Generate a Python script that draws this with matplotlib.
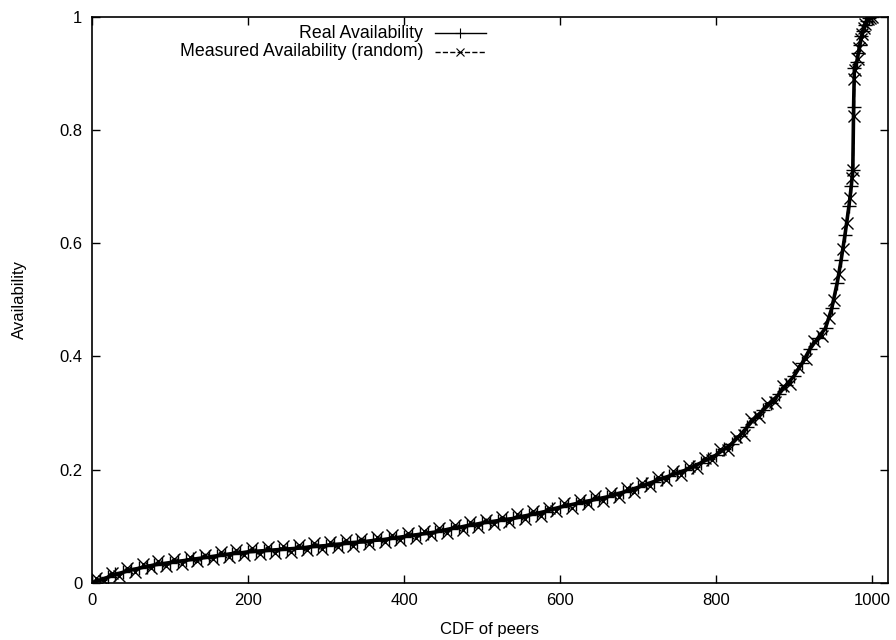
import matplotlib
matplotlib.use("Agg")
import matplotlib.pyplot as plt

plt.rcParams['font.family'] = ['Liberation Sans', 'DejaVu Sans']

# peer rank (sorted) and availability
real_x = list(range(0, 950, 10)) + [948, 955, 960, 965, 970, 973, 975, 976, 977,
                                    980, 982, 984, 986, 988, 990, 993, 996, 1000]
real_y = [0.000, 0.005, 0.010, 0.015, 0.019, 0.023, 0.026, 0.029, 0.032, 0.034,
          0.036, 0.038, 0.040, 0.042, 0.044, 0.046, 0.048, 0.050, 0.052, 0.053,
          0.055, 0.056, 0.057, 0.058, 0.059, 0.060, 0.061, 0.062, 0.064, 0.065,
          0.066, 0.068, 0.069, 0.071, 0.072, 0.073, 0.075, 0.076, 0.078, 0.080,
          0.082, 0.084, 0.086, 0.088, 0.090, 0.093, 0.096, 0.098, 0.101, 0.103,
          0.106, 0.108, 0.110, 0.112, 0.114, 0.117, 0.120, 0.123, 0.126, 0.130,
          0.134, 0.137, 0.140, 0.143, 0.146, 0.149, 0.152, 0.156, 0.160, 0.164,
          0.169, 0.174, 0.179, 0.184, 0.189, 0.194, 0.199, 0.205, 0.212, 0.219,
          0.226, 0.236, 0.246, 0.260, 0.276, 0.292, 0.305, 0.318, 0.333, 0.350,
          0.366, 0.388, 0.413, 0.432, 0.450,
          0.485, 0.530, 0.570, 0.615, 0.665, 0.700, 0.730, 0.840, 0.910,
          0.920, 0.935, 0.950, 0.965, 0.975, 0.985, 0.993, 0.998, 1.000]

meas_x = list(range(5, 950, 10)) + [951, 957, 962, 967, 971, 974, 975, 976, 977, 978,
                                    981, 983, 985, 987, 989, 991, 994, 997, 1000]
meas_y = [0.008, 0.003, 0.018, 0.012, 0.026, 0.020, 0.033, 0.026, 0.038, 0.030,
          0.042, 0.034, 0.046, 0.038, 0.050, 0.042, 0.054, 0.046, 0.058, 0.049,
          0.061, 0.051, 0.063, 0.053, 0.065, 0.055, 0.067, 0.058, 0.070, 0.060,
          0.072, 0.063, 0.075, 0.066, 0.078, 0.069, 0.081, 0.072, 0.084, 0.076,
          0.088, 0.080, 0.092, 0.084, 0.097, 0.089, 0.102, 0.094, 0.107, 0.099,
          0.112, 0.104, 0.116, 0.108, 0.121, 0.113, 0.127, 0.119, 0.133, 0.127,
          0.141, 0.133, 0.147, 0.139, 0.153, 0.145, 0.159, 0.152, 0.167, 0.161,
          0.177, 0.171, 0.187, 0.181, 0.197, 0.191, 0.207, 0.203, 0.221, 0.217,
          0.236, 0.235, 0.258, 0.262, 0.289, 0.293, 0.317, 0.320, 0.347, 0.352,
          0.382, 0.395, 0.428, 0.436, 0.468,
          0.500, 0.545, 0.590, 0.635, 0.680, 0.715, 0.730, 0.825, 0.890, 0.905,
          0.925, 0.945, 0.960, 0.970, 0.980, 0.987, 0.995, 0.998, 1.000]

x_ticks = [0, 200, 400, 600, 800, 1000]
y_ticks = [0, 0.2, 0.4, 0.6, 0.8, 1]
y_tick_labels = ['0', '0.2', '0.4', '0.6', '0.8', '1']

fig = plt.figure(figsize=(8.96, 6.4), dpi=100)
ax = fig.add_axes([0.1027, 0.0891, 0.8883, 0.885])

ax.plot(real_x, real_y, color='black', linewidth=2.6, linestyle='-',
        marker='+', markersize=10, markeredgewidth=1.0)
ax.plot(meas_x, meas_y, color='black', linewidth=1.6, linestyle='--',
        marker='x', markersize=8, markeredgewidth=1.0)

ax.set_xlim(0, 1020)
ax.set_ylim(0, 1)
ax.set_xticks(x_ticks)
ax.set_yticks(y_ticks)
ax.set_yticklabels(y_tick_labels)
ax.tick_params(direction='in', length=6, width=1, top=True, right=True,
               labelsize=12, pad=7)
for s in ax.spines.values():
    s.set_linewidth(1.2)

ax.set_xlabel('CDF of peers', fontsize=12, labelpad=10)
ax.set_ylabel('Availability', fontsize=12, labelpad=23)

# gnuplot-style key: right-aligned text, sample to the right
ax.text(0.416, 0.971, 'Real Availability', transform=ax.transAxes,
        ha='right', va='center', fontsize=12.8)
ax.text(0.416, 0.938, 'Measured Availability (random)', transform=ax.transAxes,
        ha='right', va='center', fontsize=12.8)
ax.plot([0.431, 0.495], [0.971, 0.971], transform=ax.transAxes, color='black', linewidth=1.0)
ax.plot([0.462], [0.971], transform=ax.transAxes, color='black', marker='+',
        markersize=7, markeredgewidth=0.8)
ax.plot([0.431, 0.495], [0.938, 0.938], transform=ax.transAxes, color='black',
        linewidth=1.0, linestyle='--')
ax.plot([0.462], [0.938], transform=ax.transAxes, color='black', marker='x',
        markersize=6, markeredgewidth=0.8)

fig.savefig('out.png', dpi=100)
